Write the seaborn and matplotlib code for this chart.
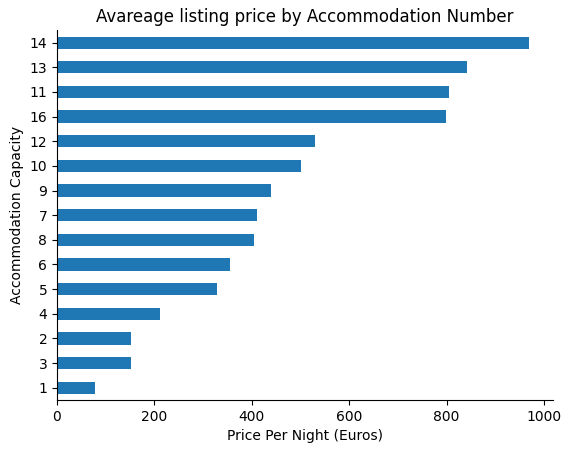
import matplotlib
matplotlib.use("Agg")
import matplotlib.pyplot as plt
import seaborn as sns
import pandas as pd

# average nightly price per accommodation capacity
capacity = ["14", "13", "11", "16", "12", "10", "9", "7", "8", "6", "5", "4", "2", "3", "1"]
price = [969, 842, 805, 799, 529, 501, 439, 410, 404, 355, 328, 211, 153, 153, 79]

df = pd.DataFrame({"accommodates": capacity, "price": price})

fig, ax = plt.subplots(figsize=(5.71, 4.53), dpi=100)
fig.subplots_adjust(left=0.0998, right=0.968, bottom=0.117, top=0.933)

sns.barplot(data=df, x="price", y="accommodates", order=capacity, orient="h",
            color="#1f77b4", saturation=1, width=0.5, ax=ax)
ax.set_xlim(0, 1018)
ax.set_title("Avareage listing price by Accommodation Number")
ax.set_xlabel("Price Per Night (Euros)")
ax.set_ylabel("Accommodation Capacity")
sns.despine(ax=ax)

fig.savefig("out.png", dpi=100)
